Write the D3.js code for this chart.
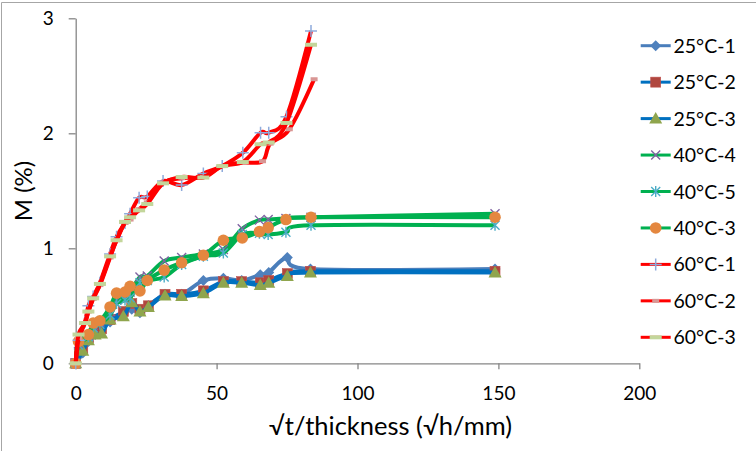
<!DOCTYPE html>
<html><head><meta charset="utf-8">
<script src="https://cdn.jsdelivr.net/npm/d3@7"></script>
<style>body{margin:0;background:#fff}svg{display:block}text{font-family:Lato,"Open Sans",sans-serif;fill:#000}</style>
</head><body><svg id="c" width="756" height="451"></svg>
<script>
// ---- data ----
const xs25 = [0, 2.5, 4.5, 6.9, 9.2, 12.2, 16.9, 19.9, 22.8, 25.8, 31.7, 37.6, 45.3, 52.4, 58.9, 65.5, 68.5, 75.1, 83.3, 148.8];
const y25_1 = [0, 0.09, 0.19, 0.25, 0.30, 0.36, 0.43, 0.47, 0.44, 0.50, 0.60, 0.60, 0.72, 0.74, 0.72, 0.77, 0.79, 0.92, 0.82, 0.82];
const y25_2 = [0, 0.12, 0.22, 0.27, 0.30, 0.38, 0.45, 0.52, 0.47, 0.50, 0.60, 0.60, 0.63, 0.71, 0.71, 0.70, 0.72, 0.78, 0.80, 0.80];
const y25_3 = [0, 0.11, 0.20, 0.25, 0.26, 0.38, 0.41, 0.53, 0.45, 0.49, 0.59, 0.585, 0.61, 0.70, 0.70, 0.68, 0.70, 0.76, 0.79, 0.79];
const xs40 = [0, 1, 4.5, 6.2, 8.6, 12.2, 14.5, 17.5, 19.3, 22.8, 25.4, 31.4, 37.6, 45.3, 52.4, 59.1, 65.2, 68.3, 74.6, 83.5, 148.8];
const y40_4 = [0, 0.17, 0.24, 0.33, 0.36, 0.45, 0.55, 0.58, 0.62, 0.75, 0.76, 0.89, 0.92, 0.95, 0.99, 1.17, 1.245, 1.25, 1.26, 1.27, 1.30];
const y40_5 = [0, 0.16, 0.23, 0.31, 0.34, 0.42, 0.52, 0.55, 0.57, 0.70, 0.72, 0.75, 0.86, 0.93, 0.96, 1.12, 1.13, 1.12, 1.14, 1.20, 1.20];
const y40_3 = [0, 0.19, 0.25, 0.35, 0.37, 0.49, 0.61, 0.62, 0.67, 0.63, 0.72, 0.81, 0.875, 0.94, 1.07, 1.09, 1.145, 1.18, 1.25, 1.27, 1.27];
const xs60a = [0, 1, 3.3, 4.5, 6.2, 8.6, 12.2, 14.5, 17.5, 19.3, 22.5, 25.4, 31, 37.6, 45.3, 52, 59.3, 65.6, 68.5, 74.8, 83.5];
const xs60b = [0, 1, 3.3, 4.5, 6.2, 8.6, 12.2, 14.5, 17.5, 19.3, 22.5, 25.4, 31, 37.6, 45.3, 52, 59.3, 66.3, 69, 75.8, 84.6];
const y60_1 = [0, 0.2, 0.36, 0.5, 0.58, 0.7, 0.95, 1.1, 1.22, 1.30, 1.44, 1.45, 1.585, 1.55, 1.65, 1.715, 1.83, 2.005, 2.005, 2.145, 2.89];
const y60_2 = [0, 0.22, 0.35, 0.45, 0.56, 0.68, 0.92, 1.07, 1.22, 1.25, 1.34, 1.40, 1.57, 1.61, 1.62, 1.715, 1.745, 1.757, 1.91, 2.035, 2.47];
const y60_3 = [0, 0.25, 0.35, 0.45, 0.565, 0.69, 0.93, 1.07, 1.23, 1.27, 1.33, 1.385, 1.565, 1.62, 1.615, 1.715, 1.75, 1.905, 1.92, 2.09, 2.77];
const names = ["25°C-1","25°C-2","25°C-3","40°C-4","40°C-5","40°C-3","60°C-1","60°C-2","60°C-3"];
const xTicks = [0, 50, 100, 150, 200];
const yTicks = [0, 1, 2, 3];

const series = [
  {name:names[0], xs:xs25, ys:y25_1, line:"#4A7EBB", m:"diamond", mc:"#4F81BD"},
  {name:names[1], xs:xs25, ys:y25_2, line:"#0070C0", m:"square", mc:"#B0473F"},
  {name:names[2], xs:xs25, ys:y25_3, line:"#0070C0", m:"triangle", mc:"#8FA54D"},
  {name:names[3], xs:xs40, ys:y40_4, line:"#00B050", m:"x", mc:"#8064A2"},
  {name:names[4], xs:xs40, ys:y40_5, line:"#00B050", m:"star", mc:"#4BACC6"},
  {name:names[5], xs:xs40, ys:y40_3, line:"#00B050", m:"circle", mc:"#E4873F"},
  {name:names[6], xs:xs60a, ys:y60_1, line:"#FF0000", m:"plus", mc:"#8EAADB"},
  {name:names[7], xs:xs60b, ys:y60_2, line:"#FF0000", m:"dashS", mc:"#D99694"},
  {name:names[8], xs:xs60a, ys:y60_3, line:"#FF0000", m:"dashL", mc:"#C3D69B"}
];

const svg = d3.select("#c");
// outer border
svg.append("path").attr("d","M1.5,451 V2.5 H756").attr("fill","none").attr("stroke","#a6a6a6").attr("stroke-width",1);

const x = d3.scaleLinear().domain([0,200]).range([75.7,639.3]);
const y = d3.scaleLinear().domain([0,3]).range([363.3,18.3]);
const axisColor = "#868686";

const gx = svg.append("g").attr("transform","translate(0,363.3)")
  .call(d3.axisBottom(x).tickValues(xTicks).tickFormat(d3.format("d")).tickSize(6).tickPadding(17).tickSizeOuter(0));
const gy = svg.append("g").attr("transform","translate(75.7,0)")
  .call(d3.axisLeft(y).tickValues(yTicks).tickFormat(d3.format("d")).tickSize(7).tickPadding(15).tickSizeOuter(0));
[gx,gy].forEach(g=>{
  g.select(".domain").attr("stroke",axisColor).attr("stroke-width",1.3);
  g.selectAll(".tick line").attr("stroke",axisColor).attr("stroke-width",1.3);
  g.selectAll(".tick text").attr("font-size",19).attr("font-family","Lato, sans-serif").attr("fill","#000");
});

svg.append("text").attr("x",390.5).attr("y",435).attr("text-anchor","middle").attr("font-size",25.5).text("√t/thickness (√h/mm)");
svg.append("text").attr("transform","translate(32,191) rotate(-90)").attr("text-anchor","middle").attr("font-size",24).text("M (%)");

function marker(g, type, color, cx, cy){
  switch(type){
    case "diamond": g.append("path").attr("d",`M${cx},${cy-5.5}L${cx+5.5},${cy}L${cx},${cy+5.5}L${cx-5.5},${cy}Z`).attr("fill",color); break;
    case "square": g.append("rect").attr("x",cx-5).attr("y",cy-5).attr("width",10).attr("height",10).attr("fill",color).attr("stroke","#c0504d").attr("stroke-width",0.6); break;
    case "triangle": g.append("path").attr("d",`M${cx},${cy-6.5}L${cx+6.5},${cy+5}L${cx-6.5},${cy+5}Z`).attr("fill",color); break;
    case "circle": g.append("circle").attr("cx",cx).attr("cy",cy).attr("r",5.8).attr("fill",color); break;
    case "x": g.append("path").attr("d",`M${cx-4.5},${cy-4.5}L${cx+4.5},${cy+4.5}M${cx-4.5},${cy+4.5}L${cx+4.5},${cy-4.5}`).attr("stroke",color).attr("stroke-width",1.4); break;
    case "star": g.append("path").attr("d",`M${cx-4.5},${cy-4.5}L${cx+4.5},${cy+4.5}M${cx-4.5},${cy+4.5}L${cx+4.5},${cy-4.5}M${cx},${cy-5.5}L${cx},${cy+5.5}`).attr("stroke",color).attr("stroke-width",1.4); break;
    case "plus": g.append("path").attr("d",`M${cx-6},${cy}L${cx+6},${cy}M${cx},${cy-6}L${cx},${cy+6}`).attr("stroke",color).attr("stroke-width",1.5); break;
    case "dashS": g.append("rect").attr("x",cx-3.5).attr("y",cy-2).attr("width",7).attr("height",4).attr("fill",color); break;
    case "dashL": g.append("rect").attr("x",cx-6).attr("y",cy-2).attr("width",12).attr("height",4).attr("fill",color); break;
  }
}

const line = d3.line().x(d=>x(d[0])).y(d=>y(d[1])).curve(d3.curveCardinal.tension(0));
series.forEach(s=>{
  const pts = s.xs.map((v,i)=>[v, s.ys[i]]);
  const g = svg.append("g");
  g.append("path").attr("d", line(pts)).attr("fill","none").attr("stroke",s.line).attr("stroke-width",4).attr("stroke-linejoin","round");
  pts.forEach(p=>marker(g, s.m, s.mc, x(p[0]), y(p[1])));
});

// legend
const lg = svg.append("g");
series.forEach((s,i)=>{
  const cy = 45.7 + i*36.45;
  lg.append("line").attr("x1",640.7).attr("x2",670.7).attr("y1",cy).attr("y2",cy).attr("stroke",s.line).attr("stroke-width",3);
  marker(lg, s.m, s.mc, 655.7, cy);
  lg.append("text").attr("x",673.5).attr("y",cy+7).attr("font-size",19.5).text(s.name);
});
</script></body></html>
